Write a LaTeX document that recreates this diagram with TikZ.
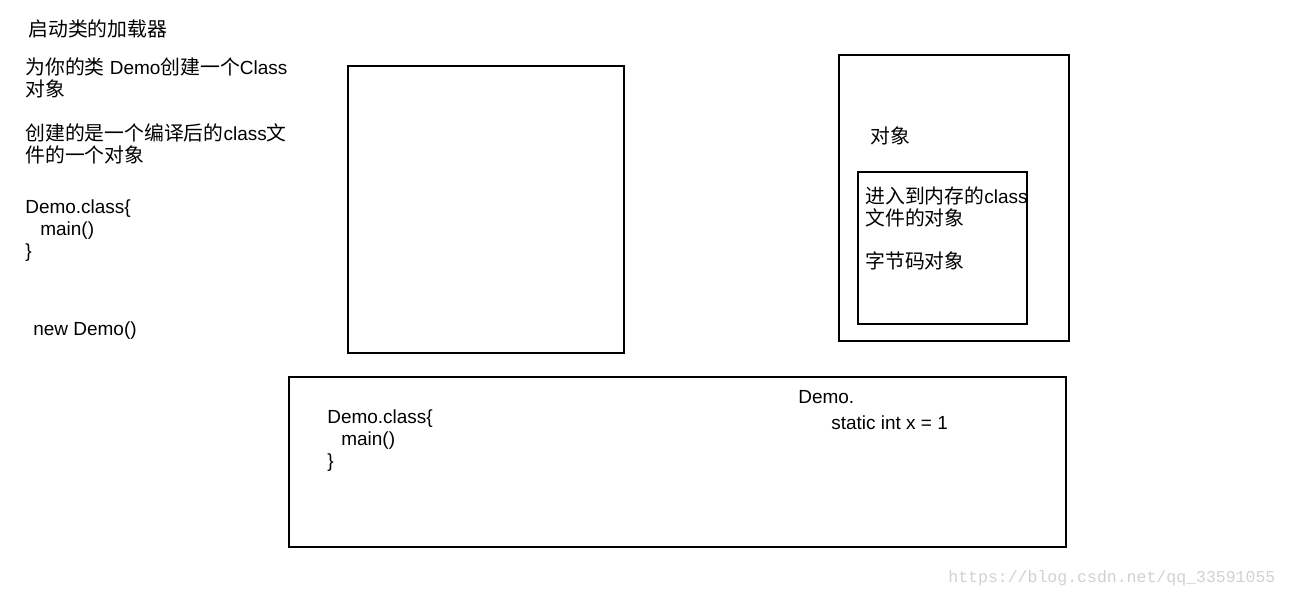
\documentclass[tikz,border=0pt]{standalone}
\usepackage{fontspec}
\setmainfont{Liberation Sans}
\newfontfamily\cjk[Scale=1.045]{Noto Sans CJK SC}
\newfontfamily\wmfont{Liberation Mono}
\newcommand{\zh}[1]{{\cjk #1}}

\begin{document}
\begin{tikzpicture}[
  x=0.02cm, y=-0.02cm,
  box/.style={draw, line width=0.6pt},
  txt/.style={anchor=north west, inner sep=0pt, align=left,
    font=\fontsize{10.8}{12.5}\selectfont},
  wmark/.style={anchor=west, inner sep=0pt, text=black!18,
    font=\wmfont\fontsize{9.4}{11}\selectfont}
]
\useasboundingbox (0,0) rectangle (1290,599);

% linke Spalte
\node[txt] (title) at (28,19) {\zh{启动类的加载器}};
\node[txt] (classobj) at (25,57) {\zh{为你的类} Demo\zh{创建一个}Class\\\zh{对象}};
\node[txt] (compiled) at (25,123) {\zh{创建的是一个编译后的}class\zh{文}\\\zh{件的一个对象}};
\node[txt] (democode) at (25,199) {Demo.class\{\\\hspace{0.3cm}main()\\\}};
\node[txt] (newdemo) at (33,321) {new Demo()};

% Kaesten oben
\draw[box] (348,66) rectangle (624,353);
\draw[box] (839,55) rectangle (1069,341);
\draw[box] (858,172) rectangle (1027,324);
\node[txt] (objlabel) at (870,126) {\zh{对象}};
\node[txt] (bytecode) at (865,186) {\zh{进入到内存的}class\\\zh{文件的对象}\\[12.5pt]\zh{字节码对象}};

% Kasten unten
\draw[box] (289,377) rectangle (1066,547);
\node[txt] (heapcode) at (327,409) {Demo.class\{\\\hspace{0.28cm}main()\\\}};
\node[txt] (democut) at (798,390) {Demo.};
\node[txt] (staticx) at (831,415) {static int x = 1};

\node[wmark] (watermark) at (948,578) {https://blog.csdn.net/qq\_33591055};
\end{tikzpicture}
\end{document}
